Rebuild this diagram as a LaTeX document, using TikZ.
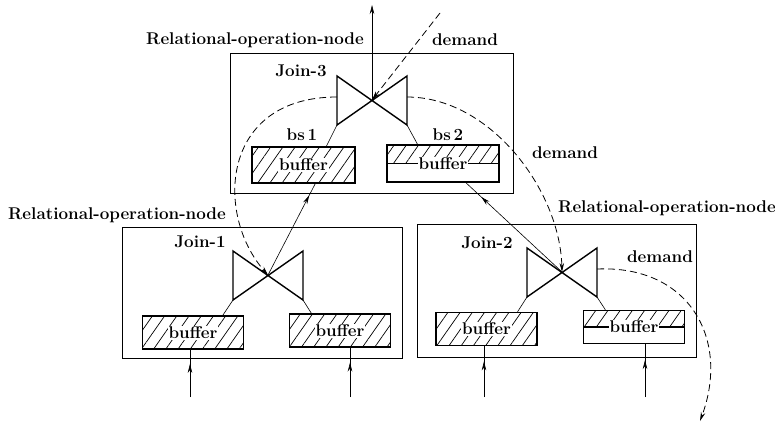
\documentclass[tikz,border=0pt]{standalone}
\usetikzlibrary{arrows.meta,patterns.meta,decorations.markings}
\tikzset{
  txt/.style={font=\fontsize{17}{19}\selectfont\bfseries, inner sep=0pt},
  opbox/.style={draw, line width=1pt, inner sep=0pt},
  hatch/.style={pattern={Lines[angle=55,distance=10pt,line width=.7pt]}},
  bufbox/.style={draw, line width=1.4pt, inner sep=0pt,
    minimum width=101pt, minimum height=33pt,
    label={[txt, fill=white, inner sep=1pt]center:buffer}},
  fullbuf/.style={bufbox, hatch},
  halfbuf/.style={bufbox, path picture={
      \fill[hatch] (path picture bounding box.north west) rectangle (path picture bounding box.east);
      \draw[line width=1.2pt] (path picture bounding box.west) -- (path picture bounding box.east);}},
  midarrow/.style={postaction={decorate}, decoration={markings,
      mark=at position #1 with {\arrow{Stealth[length=9pt,width=4.5pt]}}}},
  joinsym/.pic={
    \coordinate (-c) at (0,0);
    \coordinate (-bl) at (-35,25);
    \coordinate (-br) at (35,25);
    \coordinate (-l) at (-35,-3);
    \coordinate (-r) at (35,-3);
    \draw[line width=1.4pt, line join=miter] (-35,-24) -- (35,25) -- (35,-24) -- (-35,25) -- cycle;
  }
}
\begin{document}
\begin{tikzpicture}[x=1pt, y=-1pt, >={Stealth[length=9pt,width=4.5pt]},
    dem/.style={dash pattern=on 7pt off 4pt, line width=.8pt},
    conn/.style={line width=.6pt}]
  \useasboundingbox (0,0) rectangle (775,429);

  % relational-operation-nodes
  \node[opbox, minimum width=283pt, minimum height=140pt] (r3) at (371.5,123) {};
  \node[opbox, minimum width=280pt, minimum height=131pt] (r1) at (262,292.5) {};
  \node[opbox, minimum width=279pt, minimum height=133pt] (r2) at (556.5,290.5) {};

  \node[txt] (l-r3)  at (255,40)  {Relational-operation-node};
  \node[txt] (l-d3)  at (465,40)  {demand};
  \node[txt] (l-j3)  at (301,71)  {Join-3};
  \node[txt] (l-bs1) at (302,135) {bs\,1};
  \node[txt] (l-bs2) at (448,135) {bs\,2};
  \node[txt] (l-d32) at (565,153) {demand};
  \node[txt] (l-r1)  at (117,215) {Relational-operation-node};
  \node[txt] (l-r2)  at (667,208) {Relational-operation-node};
  \node[txt] (l-j1)  at (200,242) {Join-1};
  \node[txt] (l-j2)  at (487,243) {Join-2};
  \node[txt] (l-d2)  at (660,257) {demand};

  % buffers
  \node[fullbuf, minimum width=103pt, minimum height=36pt] (bs1) at (303.5,165) {};
  \node[halfbuf, minimum width=112pt, minimum height=37pt] (bs2) at (443,163.5) {};
  \node[fullbuf] (b11) at (193,332.5) {};
  \node[fullbuf] (b12) at (340,330.5) {};
  \node[fullbuf] (b21) at (486.5,329) {};
  \node[halfbuf] (b22) at (634,327) {};

  % joins
  \pic (j3) at (372,100) {joinsym};
  \pic (j1) at (268,275) {joinsym};
  \pic (j2) at (562,272) {joinsym};

  \foreach \a/\b in {j3-bl/bs1.39, j3-br/bs2.143, j1-bl/b11.30,
                     j1-br/b12.149, j2-bl/b21.29, j2-br/b22.149}
    \draw[conn] (\a) -- (\b);

  % data flow
  \coordinate (out3) at (372,5);
  \draw[conn, ->] (j3-c) -- (out3);
  \draw[conn, midarrow=.87] (j1-c) -- (bs1.-57);
  \draw[conn, midarrow=.84] (j2-c) -- (bs2.-40);
  \foreach \n/\x in {b11/190, b12/350, b21/484, b22/645}{
    \coordinate (in-\n) at (\x,397);
    \draw[conn, midarrow=.7] (in-\n) -- (in-\n |- \n.south);
  }

  % demand
  \coordinate (dem3) at (440,13);
  \coordinate (dem2) at (700,421);
  \draw[dem, ->] (dem3) -- (j3-c);
  \draw[dem, ->] (j3-l) .. controls (220,97) and (215,215) .. (j1-c);
  \draw[dem, ->] (j3-r) .. controls (490,97) and (560,190) .. (j2-c);
  \draw[dem, ->] (j2-r) .. controls (690,265) and (730,340) .. (dem2);
\end{tikzpicture}
\end{document}
